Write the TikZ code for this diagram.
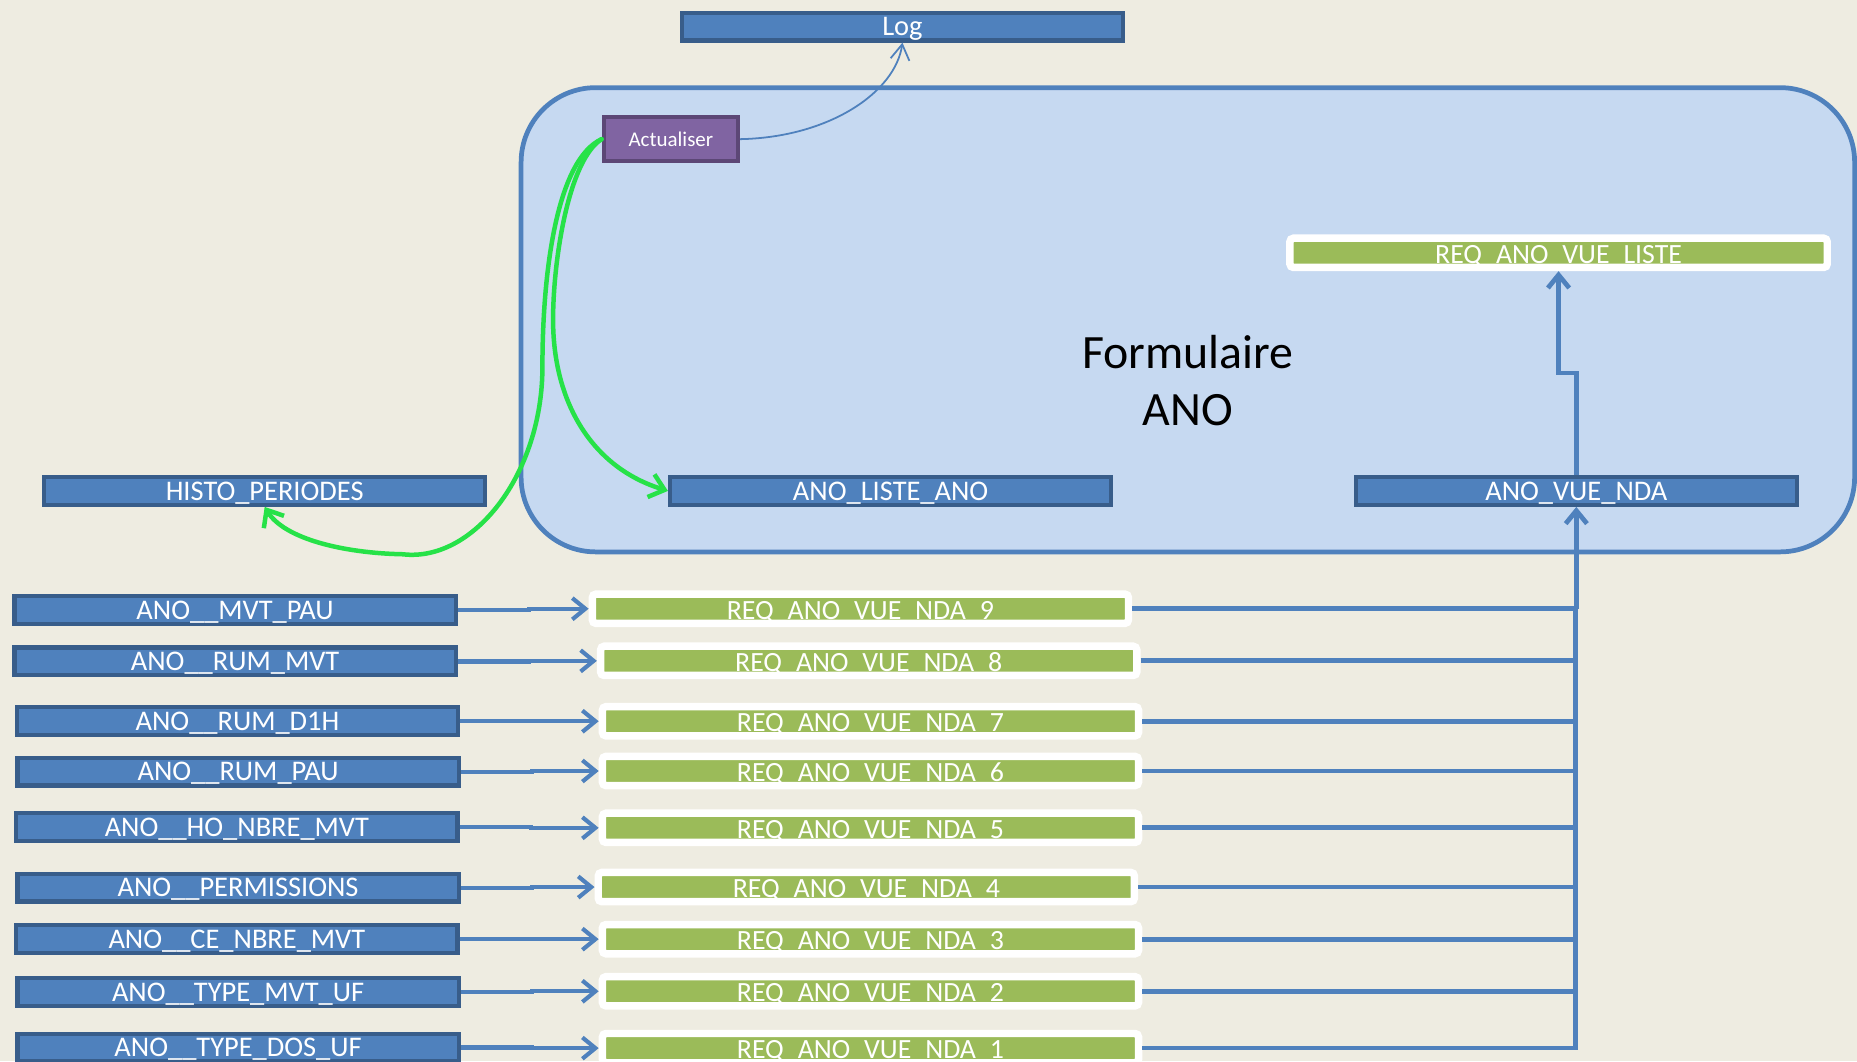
\documentclass[tikz,border=0pt]{standalone}
\usepackage{fontspec}
\setmainfont{Carlito}
\usetikzlibrary{arrows.meta}
\definecolor{bg}{HTML}{EEECE1}
\definecolor{boxblue}{HTML}{4F81BD}
\definecolor{boxline}{HTML}{385D8A}
\definecolor{formfill}{HTML}{C6D9F1}
\definecolor{reqgreen}{HTML}{9BBB59}
\definecolor{actfill}{HTML}{8064A2}
\definecolor{actline}{HTML}{5C4776}
\definecolor{flowgreen}{RGB}{38,226,72}
\begin{document}
\begin{tikzpicture}[x=1pt,y=-1pt,
  tbl/.style={fill=boxblue,draw=boxline,line width=3.5pt,text=white,inner sep=0pt,
    minimum height=23.5pt,minimum width=372.5pt,font=\fontsize{24}{24}\selectfont,
    text height=15.5pt,text depth=0pt},
  req/.style={fill=reqgreen,draw=white,line width=6.3pt,rounded corners=3pt,text=white,inner sep=0pt,
    minimum height=24.7pt,minimum width=452.7pt,font=\fontsize{23.5}{23.5}\selectfont,
    text height=17.4pt,text depth=0pt},
  actbox/.style={fill=actfill,draw=actline,line width=3.5pt,text=white,inner sep=0pt,
    minimum height=37.5pt,minimum width=113.5pt,font=\fontsize{17.7}{17.7}\selectfont},
  formbox/.style={fill=formfill,draw=boxblue,line width=4pt,rounded corners=63pt,
    minimum width=1126pt,minimum height=392pt},
  conn/.style={draw=boxblue,line width=3.5pt,-{Straight Barb[length=11pt,width=18pt]}},
  busline/.style={draw=boxblue,line width=4pt},
  busarrow/.style={draw=boxblue,line width=4pt,-{Straight Barb[length=11pt,width=18pt]}},
  logarrow/.style={draw=boxblue,line width=1.5pt,-{Straight Barb[length=13pt,width=16pt]}},
  flow/.style={draw=flowgreen,line width=3.8pt,line cap=round,-{Straight Barb[length=12pt,width=20pt]}}
]
\useasboundingbox (0,0) rectangle (1568,896);
\fill[bg] (0,0) rectangle (1568,896);

% container
\node[formbox] (form) at (1003,270) {};
\node[font=\fontsize{40.4}{48}\selectfont,align=center,inner sep=0pt] (title) at (1003,321) {Formulaire\\ANO};

% top
\node[tbl] (log) at (762,22.5) {Log};
\node[actbox] (act) at (566.5,117.5) {Actualiser};

\node[req,minimum width=453.7pt] (liste) at (1316,213.5) {REQ\_ANO\_VUE\_LISTE};

\node[tbl] (histo) at (223.5,414.5) {HISTO\_PERIODES};
\node[tbl] (lano) at (752,414.5) {ANO\_LISTE\_ANO};
\node[tbl] (nda) at (1331,414.5) {ANO\_VUE\_NDA};

% left tables
\node[tbl] (a9) at (198.5,515) {ANO\_\_MVT\_PAU};
\node[tbl] (a8) at (198.5,558.5) {ANO\_\_RUM\_MVT};
\node[tbl] (a7) at (200.5,609) {ANO\_\_RUM\_D1H};
\node[tbl] (a6) at (201,651.5) {ANO\_\_RUM\_PAU};
\node[tbl] (a5) at (200,698.5) {ANO\_\_HO\_NBRE\_MVT};
\node[tbl] (a4) at (201,749.5) {ANO\_\_PERMISSIONS};
\node[tbl] (a3) at (200,793) {ANO\_\_CE\_NBRE\_MVT};
\node[tbl] (a2) at (201,837.5) {ANO\_\_TYPE\_MVT\_UF};
\node[tbl] (a1) at (201,884.5) {ANO\_\_TYPE\_DOS\_UF};

% requests
\node[req] (r9) at (726.5,514) {REQ\_ANO\_VUE\_NDA\_9};
\node[req] (r8) at (733.5,558) {REQ\_ANO\_VUE\_NDA\_8};
\node[req] (r7) at (735,609) {REQ\_ANO\_VUE\_NDA\_7};
\node[req] (r6) at (735,651) {REQ\_ANO\_VUE\_NDA\_6};
\node[req] (r5) at (735,699) {REQ\_ANO\_VUE\_NDA\_5};
\node[req] (r4) at (731.5,749) {REQ\_ANO\_VUE\_NDA\_4};
\node[req] (r3) at (735,793) {REQ\_ANO\_VUE\_NDA\_3};
\node[req] (r2) at (735,837) {REQ\_ANO\_VUE\_NDA\_2};
\node[req] (r1) at (735,885) {REQ\_ANO\_VUE\_NDA\_1};

% left connectors
\foreach \i in {1,...,9}{
  \draw[conn] (a\i.east) -- ++(60,0) |- (r\i.west);
}

% bus
\coordinate (bus) at (1330,0);
\foreach \i in {2,...,9}{
  \draw[busline] (r\i.east) -- (r\i.east -| bus);
}
\draw[busline,line join=miter] (r1.east) -- (r1.east -| bus) -- (r9.east -| bus);
\draw[busarrow] (r9.east -| nda.south) -- (nda.south);

% nda -> liste
\coordinate (jog) at (1331,315);
\draw[busarrow] (nda.north) -- (jog) -| (liste.south);

% log arrow
\draw[logarrow] (act.east) .. controls (700,116) and (756,78) .. (log.south);

% green flows
\draw[flow] (act.west) .. controls (480,135) and (467,220) .. (467,270)
  .. controls (467,340) and (500,395) .. (lano.west);
\draw[flow] (act.west) .. controls (470,135) and (458,230) .. (458,310)
  .. controls (458,400) and (400,475) .. (340,468)
  .. controls (290,467) and (240,455) .. (histo.south);
\end{tikzpicture}
\end{document}
